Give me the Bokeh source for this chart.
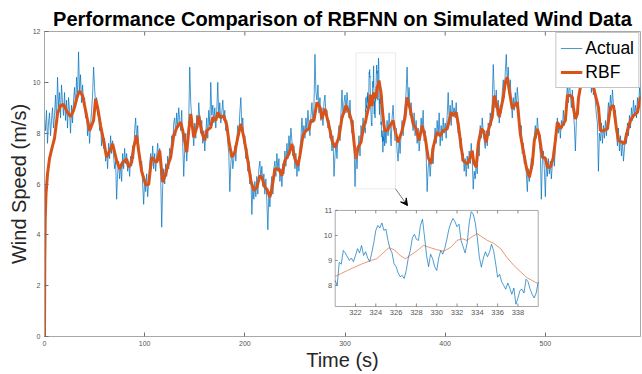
import numpy as np
from bokeh.plotting import figure
from bokeh.models import Range1d, FixedTicker, BoxAnnotation, Arrow, VeeHead, Title
from bokeh.core.properties import value
from bokeh.embed import file_html
from bokeh.resources import INLINE

FONT = "Liberation Sans"
BLUE = "#0072BD"
ORANGE = "#D95319"
AXIS_GREY = "#a8a8a8"
TICK_TEXT = "#555555"

# Measured wind speed, one sample per second from t = 0 s to t = 600 s
actual_speed = [
    8.6, 8.1, 8.9, 7.6, 8.4, 8.8, 7.9, 8.5, 9.0, 8.2,
    8.7, 9.5, 8.4, 10.2, 9.0, 9.6, 8.6, 9.9, 9.2, 8.7,
    9.6, 8.5, 9.3, 8.2, 9.4, 8.9, 8.0, 9.1, 8.4, 9.3,
    9.8, 9.0, 10.2, 9.4, 11.2, 9.6, 10.3, 9.2, 9.9, 9.1,
    9.4, 8.6, 8.9, 7.9, 8.5, 7.6, 8.3, 8.9, 9.5, 10.6,
    9.8, 9.1, 9.4, 8.7, 8.9, 8.1, 8.4, 7.5, 8.0, 7.4,
    7.8, 6.9, 7.3, 6.6, 7.6, 7.0, 7.9, 7.2, 7.7, 7.1,
    6.6, 6.9, 5.4, 6.4, 6.9, 6.2, 6.8, 6.1, 7.2, 6.6,
    7.4, 6.8, 7.2, 6.5, 6.9, 6.3, 7.1, 6.7, 7.5, 7.0,
    8.1, 8.6, 7.7, 8.3, 7.4, 7.0, 6.6, 6.9, 6.0, 5.2,
    6.2, 5.7, 6.4, 5.5, 6.1, 6.8, 7.2, 6.7, 7.5, 6.6,
    7.2, 6.5, 7.1, 7.6, 6.9, 7.4, 6.3, 4.3, 5.9, 6.6,
    6.0, 6.8, 6.3, 7.1, 6.6, 7.4, 7.0, 7.9, 7.5, 8.4,
    8.6, 7.9, 8.8, 8.2, 9.0, 8.5, 8.1, 8.9, 7.6, 6.3,
    7.4, 8.0, 6.9, 7.7, 8.5, 10.6, 9.2, 8.6, 8.1, 7.5,
    8.4, 7.8, 8.7, 8.2, 9.2, 8.6, 8.0, 8.5, 7.6, 8.1,
    7.3, 8.0, 8.6, 7.8, 8.9, 8.3, 10.0, 8.7, 9.1, 8.4,
    9.0, 8.2, 8.9, 10.0, 8.6, 9.2, 8.4, 8.8, 9.3, 8.5,
    8.9, 8.1, 8.5, 7.6, 7.2, 5.7, 6.8, 7.3, 6.6, 7.0,
    7.5, 6.9, 7.7, 8.3, 7.9, 8.8, 9.4, 8.3, 8.6, 7.6,
    7.9, 7.0, 7.4, 6.5, 6.9, 6.0, 6.4, 4.8, 5.9, 5.4,
    6.1, 5.5, 6.3, 5.6, 6.6, 6.9, 6.2, 6.7, 5.9, 6.4,
    5.6, 6.2, 5.3, 4.2, 5.7, 5.1, 5.9, 6.3, 5.6, 6.6,
    6.9, 6.3, 7.2, 6.5, 7.0, 6.1, 6.6, 5.9, 6.8, 6.4,
    7.3, 6.7, 7.6, 7.0, 7.9, 7.4, 8.2, 7.7, 7.1, 7.5,
    6.6, 7.2, 6.3, 6.9, 6.5, 7.4, 7.8, 8.6, 7.9, 8.3,
    7.8, 8.6, 8.1, 8.9, 8.3, 7.9, 8.7, 9.2, 8.4, 9.0,
    11.1, 9.6, 9.3, 9.9, 8.8, 9.4, 8.5, 9.0, 8.3, 9.2,
    9.5, 8.7, 8.9, 8.2, 8.5, 7.8, 8.1, 7.3, 7.9, 6.3,
    7.1, 7.6, 7.0, 7.9, 8.3, 7.7, 8.8, 9.7, 8.6, 9.2,
    9.5, 8.8, 9.6, 9.1, 8.6, 9.3, 8.4, 8.0, 8.5, 7.6,
    5.9, 7.2, 6.6, 7.4, 7.9, 7.1, 8.3, 7.8, 8.6, 8.1,
    8.2, 9.3, 9.2, 9.35, 10.2, 10.25, 8.75, 8.6, 9.85, 9.2,
    8.6, 9.85, 10.35, 9.7, 9.9, 9.15, 8.33, 8.1, 7.5, 8.15,
    8.15, 7.6, 8.5, 7.9, 8.8, 8.2, 7.5, 8.6, 9.1, 8.3,
    7.7, 8.2, 7.3, 6.9, 7.8, 7.2, 8.0, 8.5, 7.9, 8.7,
    9.1, 9.6, 10.6, 9.3, 9.8, 8.7, 9.2, 8.5, 8.1, 8.8,
    7.9, 8.5, 7.6, 8.2, 7.3, 7.8, 8.6, 8.1, 8.9, 7.7,
    8.1, 7.2, 5.7, 6.6, 7.0, 6.3, 6.9, 7.4, 6.8, 7.7,
    8.2, 7.6, 8.5, 7.9, 8.8, 7.5, 8.3, 7.7, 8.6, 8.0,
    8.4, 7.8, 8.7, 9.6, 8.5, 9.1, 8.3, 9.3, 8.8, 9.0,
    8.6, 9.2, 8.4, 8.0, 8.3, 7.4, 7.8, 6.9, 7.2, 6.5,
    7.0, 6.3, 7.1, 6.6, 7.3, 6.8, 7.6, 7.0, 5.8, 6.5,
    6.2, 6.9, 6.4, 7.6, 7.1, 8.3, 7.8, 8.6, 8.0, 7.7,
    7.4, 8.1, 7.5, 8.4, 7.9, 8.8, 8.3, 9.2, 10.7, 9.6,
    9.0, 9.7, 8.7, 9.3, 8.4, 9.1, 8.8, 9.6, 10.1, 9.4,
    10.4, 11.1, 10.0, 10.6, 9.5, 10.1, 9.2, 8.6, 9.4, 8.9,
    9.6, 9.0, 9.8, 9.3, 8.4, 7.9, 8.3, 7.2, 7.6, 6.8,
    7.1, 6.4, 5.7, 6.6, 6.1, 6.5, 7.0, 6.6, 7.4, 7.9,
    8.3, 7.8, 8.6, 8.1, 7.6, 7.2, 5.4, 6.9, 7.3, 6.6,
    5.5, 6.8, 6.3, 7.0, 6.4, 6.9, 6.2, 6.8, 7.3, 6.7,
    7.5, 8.1, 8.6, 8.0, 8.4, 7.8, 8.5, 8.2, 8.9, 8.3,
    8.7, 9.3, 9.9, 9.2, 10.1, 9.5, 9.0, 9.7, 8.8, 8.3,
    7.3, 8.5, 8.9, 9.1, 9.6, 9.9, 10.4, 9.8, 10.6, 10.1,
    11.6, 10.5, 10.9, 9.9, 10.3, 10.7, 9.6, 10.2, 9.5, 9.9,
    9.2, 8.7, 8.4, 6.5, 8.0, 7.7, 8.4, 7.6, 8.3, 7.8,
    8.5, 7.9, 8.6, 9.2, 8.8, 9.5, 8.9, 9.7, 9.1, 8.6,
    8.9, 8.0, 7.5, 8.2, 7.3, 7.9, 7.1, 7.7, 6.9, 7.4,
    8.0, 7.6, 8.4, 7.9, 8.7, 8.2, 9.0, 8.5, 9.3, 8.7,
    9.1, 8.6, 9.4, 8.9, 9.8, 9.3, 10.1, 9.6, 10.4, 9.5,
    9.9,
]

# Finer record of the measured speed inside the zoom window (0.2 s steps)
zoom_start, zoom_end, zoom_step = 320.0, 340.0, 0.2
zoom_speed = [
    8.2, 8.0, 8.93, 8.85, 9.4, 9.3, 9.15, 9.0, 9.1, 8.95,
    9.2, 9.47, 9.3, 9.6, 9.2, 9.35, 9.1, 8.95, 9.3, 9.7,
    10.2, 10.4, 10.3, 10.5, 10.2, 10.25, 9.8, 9.47, 9.3, 8.87,
    8.75, 8.5, 8.35, 8.4, 8.28, 8.6, 9.1, 9.4, 9.9, 10.05,
    9.85, 9.8, 10.4, 10.65, 9.95, 9.2, 8.75, 9.25, 9.07, 8.75,
    8.6, 9.1, 9.4, 9.25, 9.5, 9.85, 10.25, 10.5, 10.68, 10.55,
    10.35, 10.45, 9.8, 9.55, 9.3, 9.7, 10.5, 10.95, 10.85, 10.5,
    9.9, 9.13, 8.73, 9.1, 9.35, 9.15, 9.33, 9.65, 9.4, 8.9,
    8.33, 8.45, 8.15, 8.0, 7.85, 8.1, 7.9, 7.65, 7.9, 7.25,
    7.5, 7.8, 7.85, 7.7, 8.25, 8.15, 7.85, 7.65, 7.5, 7.7, 8.15,
]

# RBF network output (time in s, speed in m/s)
rbf_time = [
    0, 0.3, 0.7, 1.5, 3, 5, 8, 10, 13, 16,
    19, 23, 26, 29, 33, 35, 38, 41, 45, 49,
    51, 53, 56, 59, 62, 66, 68, 72, 75, 78,
    82, 84, 87, 89, 92, 94, 97, 101, 104, 107,
    110, 112, 115, 118, 121, 123, 126, 129, 132, 136,
    138, 142, 144, 146, 149, 152, 154, 157, 160, 162,
    166, 168, 171, 173, 176, 179, 182, 184, 187, 190,
    193, 196, 199, 203, 206, 209, 212, 215, 217, 220,
    222, 225, 227, 230, 234, 237, 240, 244, 247, 250,
    253, 255, 258, 261, 264, 266, 269, 272, 275, 277,
    280, 284, 287, 290, 294, 297, 299, 301, 304, 307,
    309, 311, 313, 316, 319, 320.0, 321.2, 322.5, 323.5, 324.1,
    324.8, 325.3, 325.8, 326.4, 326.9, 327.4, 328.1, 328.7, 329.4, 330.0,
    330.7, 331.4, 332.0, 332.5, 333.0, 333.5, 334.0, 334.5, 335.0, 335.6,
    336.3, 336.9, 337.6, 338.3, 338.9, 339.9, 342, 345, 348, 350,
    353, 357, 360, 362, 365, 368, 371, 374, 377, 380,
    383, 386, 388, 392, 395, 398, 402, 406, 408, 411,
    413, 416, 418, 422, 424, 427, 428.5, 431, 433, 436,
    438, 441, 443, 447, 449, 452, 454, 458, 460, 462,
    464, 467, 469, 472, 475, 478, 481, 484, 487, 489,
    492, 494, 497, 500, 502, 505, 508, 510, 512, 515,
    518, 520, 522, 525, 527, 528, 530, 532, 533, 535,
    538, 541, 545, 548, 553, 555, 558, 562, 565, 568,
    571, 573, 577, 579, 582, 585, 588, 592, 595, 597,
    600,
]
rbf_speed = [
    0.0, 3.0, 4.6, 5.6, 6.4, 7.0, 7.5, 7.8, 8.76, 9.09,
    9.13, 8.82, 8.65, 8.89, 9.48, 9.65, 9.48, 8.89, 8.10, 8.50,
    9.35, 9.02, 8.30, 7.71, 7.05, 7.38, 7.58, 6.92, 6.59, 6.85,
    6.99, 6.66, 6.85, 7.44, 7.91, 7.31, 6.50, 5.97, 5.98, 7.05,
    6.92, 6.85, 7.31, 6.07, 6.40, 6.72, 7.05, 7.91, 8.21, 8.43,
    8.10, 7.25, 8.10, 8.76, 7.84, 8.23, 8.69, 8.04, 7.71, 8.10,
    8.23, 8.63, 8.50, 8.82, 8.60, 8.69, 8.30, 7.71, 7.05, 7.25,
    7.84, 8.37, 7.84, 6.92, 6.13, 5.74, 5.87, 6.33, 6.26, 5.87,
    5.80, 5.48, 5.80, 6.59, 6.59, 6.33, 6.92, 7.18, 7.58, 6.99,
    6.72, 7.12, 7.91, 8.10, 8.17, 8.50, 8.50, 9.22, 9.02, 8.56,
    8.96, 8.30, 7.71, 7.44, 7.84, 8.63, 8.82, 9.09, 8.82, 8.43,
    7.64, 6.99, 7.44, 7.64, 8.37, 8.36, 8.60, 8.84, 9.00, 9.07,
    9.33, 9.51, 9.43, 9.20, 9.07, 9.20, 9.40, 9.60, 9.51, 9.43,
    9.37, 9.53, 9.80, 9.87, 9.80, 9.96, 10.07, 9.93, 9.80, 9.69,
    9.47, 9.13, 8.80, 8.53, 8.31, 8.09, 8.10, 8.30, 8.50, 8.10,
    7.64, 8.10, 8.63, 9.41, 8.96, 8.37, 8.17, 7.71, 8.30, 7.84,
    7.05, 6.79, 7.44, 8.04, 7.90, 8.10, 8.17, 8.82, 8.69, 8.82,
    8.37, 7.44, 6.92, 6.79, 6.92, 7.31, 6.85, 6.66, 7.58, 8.17,
    8.10, 7.64, 8.10, 8.63, 9.48, 9.02, 8.63, 9.41, 10.00, 10.20,
    9.68, 8.96, 9.09, 9.22, 7.97, 7.31, 6.66, 6.26, 6.79, 7.71,
    8.17, 7.91, 7.05, 7.02, 6.66, 6.66, 7.05, 7.71, 8.43, 8.17,
    8.37, 8.50, 9.48, 9.48, 9.41, 9.02, 8.56, 8.76, 9.35, 9.81,
    10.15, 10.25, 10.10, 9.81, 9.02, 8.10, 8.10, 8.17, 9.02, 9.09,
    8.17, 7.71, 7.64, 7.58, 8.10, 8.50, 8.69, 8.82, 9.41, 9.48,
    9.60,
]

x_ticks = [0, 100, 200, 300, 400, 500, 600]
y_ticks = [0, 2, 4, 6, 8, 10, 12]
zoom_x_ticks = [322, 324, 326, 328, 330, 332, 334, 336, 338]
zoom_y_ticks = [8, 9, 10, 11]
zoom_y_low, zoom_y_high = 7.16, 11.0

# ---- assemble the series ---------------------------------------------------
t_coarse = np.arange(len(actual_speed), dtype=float)
v_coarse = np.array(actual_speed)
t_zoom = zoom_start + zoom_step * np.arange(len(zoom_speed))
v_zoom = np.array(zoom_speed)
keep = (t_coarse < zoom_start) | (t_coarse > zoom_end)
t_meas = np.concatenate([t_coarse[keep], t_zoom])
v_meas = np.concatenate([v_coarse[keep], v_zoom])
order = np.argsort(t_meas, kind="stable")
t_meas, v_meas = t_meas[order], v_meas[order]

rbf_t = np.array(rbf_time, dtype=float)
rbf_v = np.array(rbf_speed)

# ---- main figure -------------------------------------------------------------
p = figure(width=642, height=374, x_range=Range1d(0, 595), y_range=Range1d(0, 12),
           output_backend="svg", toolbar_location=None,
           min_border_left=44, min_border_right=2, min_border_top=31, min_border_bottom=38,
           background_fill_color="white", border_fill_color="white")
p.outline_line_color = AXIS_GREY
p.grid.visible = False

p.add_layout(Title(text="Performance Comparison of RBFNN on Simulated Wind Data",
                   text_font=FONT, text_font_size="20px", text_font_style="bold",
                   text_color="black", align="center", standoff=4), "above")

p.xaxis.ticker = FixedTicker(ticks=x_ticks)
p.yaxis.ticker = FixedTicker(ticks=y_ticks)
p.xaxis.axis_label = "Time (s)"
p.yaxis.axis_label = "Wind Speed (m/s)"
for ax in (p.xaxis[0], p.yaxis[0]):
    ax.axis_line_color = AXIS_GREY
    ax.major_tick_in = 4
    ax.major_tick_out = 0
    ax.minor_tick_in = 0
    ax.minor_tick_out = 0
    ax.major_tick_line_color = "#707070"
    ax.major_label_text_font = FONT
    ax.major_label_text_font_size = "7px"
    ax.major_label_text_color = TICK_TEXT
    ax.major_label_standoff = 4
    ax.axis_label_text_font = FONT
    ax.axis_label_text_font_size = "20px"
    ax.axis_label_text_font_style = "normal"
    ax.axis_label_text_color = "#262626"
    ax.axis_label_standoff = 0

# tick marks along the top edge of the frame
p.segment(x0=x_ticks, y0=[12] * len(x_ticks), x1=x_ticks, y1=[11.84] * len(x_ticks),
          line_color="#707070", line_width=1)

p.line(t_meas, v_meas, line_color=BLUE, line_width=0.8, line_alpha=0.9, legend_label="Actual")
p.line(rbf_t, rbf_v, line_color=ORANGE, line_width=3, legend_label="RBF")

leg = p.legend[0]
leg.location = "top_right"
leg.margin = 1
leg.padding = 4
leg.spacing = 2
leg.label_height = 22
leg.glyph_height = 22
leg.glyph_width = 22
leg.label_standoff = 3
leg.label_text_font = FONT
leg.label_text_font_size = "17.5px"
leg.label_text_color = "black"
leg.border_line_color = "#8c8c8c"
leg.background_fill_color = "white"
leg.background_fill_alpha = 1.0

# zoom window marker and pointer to the inset
p.add_layout(BoxAnnotation(left=311, right=350.4, bottom=5.81, top=11.16,
                           fill_color=None, line_color="#bdbdbd", line_width=1))
p.add_layout(Arrow(x_start=350.4, y_start=5.81, x_end=362.4, y_end=5.15,
                   line_color="#555555", line_width=0.8,
                   end=VeeHead(size=7, fill_color="black", line_color="black")))

# ---- inset with a finer view of the zoom window -----------------------------
ins = p.subplot(x_source=Range1d(zoom_start, zoom_end), y_source=Range1d(zoom_y_low, zoom_y_high),
                x_target=Range1d(290.2, 492.9), y_target=Range1d(1.18, 4.96))
ins.quad(left=[zoom_start], right=[zoom_end], bottom=[zoom_y_low], top=[zoom_y_high],
         fill_color="white", line_color=AXIS_GREY, line_width=1)
ins.line(t_zoom, v_zoom, line_color=BLUE, line_width=0.7)
sel = (rbf_t >= zoom_start) & (rbf_t <= zoom_end)
ins.line(rbf_t[sel], rbf_v[sel], line_color=ORANGE, line_width=0.8, line_alpha=0.75)
nx, ny = len(zoom_x_ticks), len(zoom_y_ticks)
ins.segment(x0=zoom_x_ticks, y0=[zoom_y_low] * nx, x1=zoom_x_ticks, y1=[zoom_y_low + 0.12] * nx,
            line_color="#707070", line_width=0.8)
ins.segment(x0=zoom_x_ticks, y0=[zoom_y_high] * nx, x1=zoom_x_ticks, y1=[zoom_y_high - 0.12] * nx,
            line_color="#707070", line_width=0.8)
ins.segment(x0=[zoom_start] * ny, y0=zoom_y_ticks, x1=[zoom_start + 0.25] * ny, y1=zoom_y_ticks,
            line_color="#707070", line_width=0.8)
ins.text(x=zoom_x_ticks, y=[zoom_y_low] * nx, text=[str(t) for t in zoom_x_ticks],
         text_font=value(FONT), text_font_size="7.5px", text_color=TICK_TEXT,
         text_align="center", text_baseline="top", y_offset=3)
ins.text(x=[zoom_start] * ny, y=zoom_y_ticks, text=[str(t) for t in zoom_y_ticks],
         text_font=value(FONT), text_font_size="7.5px", text_color=TICK_TEXT,
         text_align="right", text_baseline="middle", x_offset=-3)

open("out.html", "w").write(file_html(p, INLINE))
